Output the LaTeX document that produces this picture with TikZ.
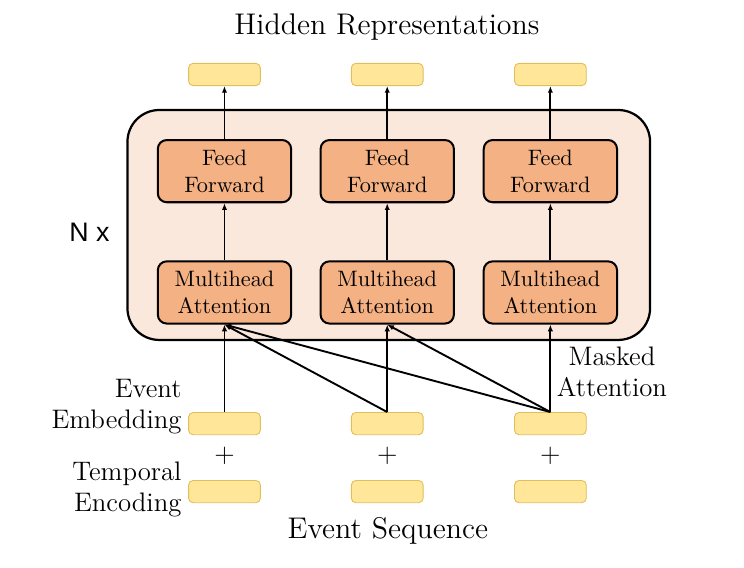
\documentclass[tikz,border=0pt]{standalone}
\usepackage{fontspec}
\newfontfamily\nxfont{Liberation Sans}
\usetikzlibrary{arrows.meta,positioning}

\definecolor{blockbg}{HTML}{FBE8DC}
\definecolor{layerfill}{HTML}{F4B183}
\definecolor{vecfill}{HTML}{FFE699}
\definecolor{vecborder}{HTML}{E0BE5C}

\begin{document}
\begin{tikzpicture}[
    vec/.style={draw=vecborder, fill=vecfill, rounded corners=2pt, line width=0.4pt,
      minimum width=1.13cm, minimum height=0.35cm, inner sep=0pt},
    layer/.style={draw, fill=layerfill, rounded corners=4pt, line width=0.9pt,
      minimum width=2.1cm, minimum height=0.98cm, inner sep=0pt, align=center},
    conn/.style={-{Latex[length=3pt,width=2.4pt]}, line width=0.85pt},
    lbl/.style={font=\large, align=right, anchor=east, inner sep=0pt},
    bigtext/.style={font=\fontsize{13.4}{16}\selectfont}
  ]
    \useasboundingbox (0,0) rectangle (11.72,8.946);

    % the stacked block
    \draw [line width=1pt, fill=blockbg, rounded corners=0.5cm] (2.008,3.591) rectangle (10.24,7.213);

    \foreach \i/\x in {1/3.536, 2/6.10, 3/8.67} {
      \node[vec] (out\i) at (\x,7.773) {};
      \node[layer] (ff\i) at (\x,6.25) {Feed\\Forward};
      \node[layer] (att\i) at (\x,4.339) {Multihead\\Attention};
      \node[vec] (emb\i) at (\x,2.273) {};
      \node (plus\i) at (\x,1.769) {\large $+$};
      \node[vec] (enc\i) at (\x,1.202) {};

      \draw [conn] (emb\i.north) -- (att\i.south);
      \draw [conn] (att\i.north) -- (ff\i.south);
      \draw [conn] (ff\i.north) -- (out\i.south);
    }

    % masked attention links
    \draw [conn] (emb2.north) -- (att1.south);
    \draw [conn] (emb3.north) -- (att1.south);
    \draw [conn] (emb3.north) -- (att2.south);

    \node[bigtext] (hidden) at (6.095,8.52) {Hidden Representations};
    \node[bigtext] (sequence) at (6.11,0.583) {Event Sequence};
    \node[lbl] (embtext) at (2.866,2.536) {Event\\Embedding};
    \node[lbl] (enctext) at (2.866,1.236) {Temporal\\Encoding};
    \node[font=\large, align=center] (masked) at (9.64,3.087) {Masked\\Attention};
    \node[font=\nxfont\large] (layers) at (1.41,5.292) {N x};
  \end{tikzpicture}
\end{document}
